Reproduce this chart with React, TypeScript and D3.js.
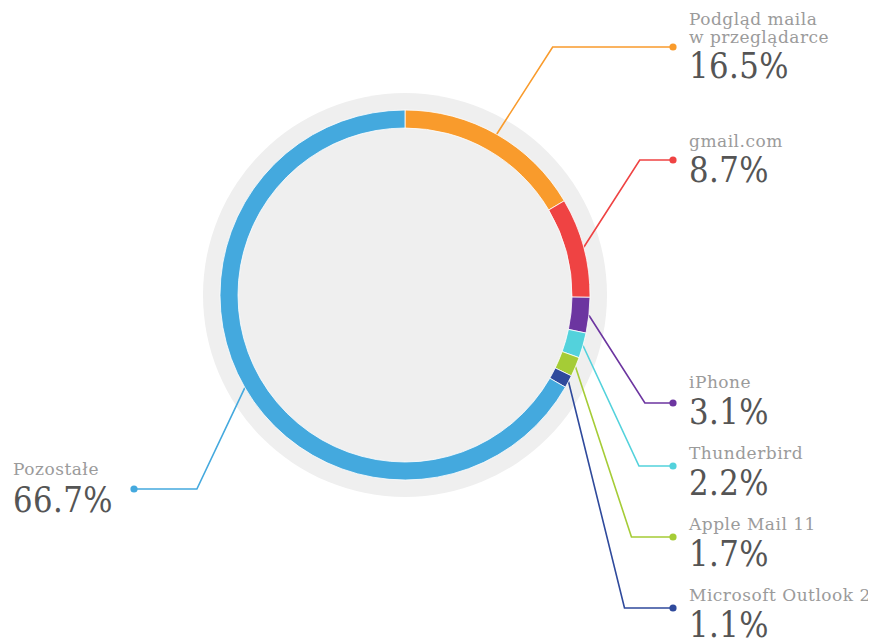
import React from "react";
import * as d3 from "d3";

// ---- data ----
const categories: string[] = [
  "Podgląd maila\nw przeglądarce",
  "gmail.com",
  "iPhone",
  "Thunderbird",
  "Apple Mail 11",
  "Microsoft Outlook 2016",
  "Pozostałe",
];
const values: number[] = [16.5, 8.7, 3.1, 2.2, 1.7, 1.1, 66.7];
const colors: string[] = [
  "#F99B2C",
  "#EF4343",
  "#6C35A0",
  "#53D2DC",
  "#A5CC36",
  "#2F4A9C",
  "#44A9DE",
];

// ---- layout (label placement) ----
const W = 868;
const H = 642;
const cx = 405;
const cy = 295;
const rGrey = 202;
const rOuter = 185;
const rInner = 167;
const rightTextX = 689;
const rightDotX = 673;
const leftTextX = 13;
const leftDotX = 134;
const nameBaselines: number[] = [25, 147, 388, 459, 530, 601, 475];
const dotYs: number[] = [47, 160, 403, 466, 537, 608, 489];
const pctBaselines: number[] = [78, 182, 424, 495, 566, 637, 512];

const FONT = "'DejaVu Serif', serif";

export default function App() {
  const pie = d3
    .pie<number>()
    .sort(null)
    .value((d) => d)
    .startAngle(0)
    .endAngle(2 * Math.PI);
  const arcs = pie(values);
  const arc = d3
    .arc<d3.PieArcDatum<number>>()
    .innerRadius(rInner)
    .outerRadius(rOuter);

  const items = arcs.map((a, i) => {
    const mid = (a.startAngle + a.endAngle) / 2;
    const ax = cx + rOuter * Math.sin(mid);
    const ay = cy - rOuter * Math.cos(mid);
    const right = Math.sin(mid) >= 0;
    const ex = right ? ax + 56 : ax - 48;
    const ey = dotYs[i];
    const dx = right ? rightDotX : leftDotX;
    const path = d3.line()([
      [ax, ay],
      [ex, ey],
      [dx, ey],
    ]);
    return { a, i, right, path, dx, ey };
  });

  return (
    <svg
      width={W}
      height={H}
      style={{ position: "absolute", left: 0, top: 0, background: "#fff" }}
    >
      <circle cx={cx} cy={cy} r={rGrey} fill="#EFEFEF" />
      {items.map(({ i, path }) => (
        <path
          key={"l" + i}
          d={path || ""}
          fill="none"
          stroke={colors[i]}
          strokeWidth={1.6}
        />
      ))}
      <g transform={`translate(${cx},${cy})`}>
        {arcs.map((a, i) => (
          <path
            key={"a" + i}
            d={arc(a) || ""}
            fill={colors[i]}
            stroke="#ffffff"
            strokeWidth={0.8}
          />
        ))}
      </g>
      {items.map(({ i, dx, ey }) => (
        <circle key={"d" + i} cx={dx} cy={ey} r={3.6} fill={colors[i]} />
      ))}
      {items.map(({ i, right }) => {
        const tx = right ? rightTextX : leftTextX;
        const lines = categories[i].split("\n");
        const nb = nameBaselines[i];
        return (
          <g key={"t" + i} fontFamily={FONT}>
            <text
              x={tx}
              y={nb}
              fontSize={17}
              fill="#9B9B9B"
              letterSpacing={0.5}
            >
              {lines.map((ln, k) => (
                <tspan key={k} x={tx} y={nb + k * 18}>
                  {ln}
                </tspan>
              ))}
            </text>
            <text
              transform={`translate(${tx},${pctBaselines[i]}) scale(0.88,1)`}
              fontSize={35}
              fill="#555555"
              letterSpacing={0.5}
            >
              {values[i].toFixed(1) + "%"}
            </text>
          </g>
        );
      })}
    </svg>
  );
}
